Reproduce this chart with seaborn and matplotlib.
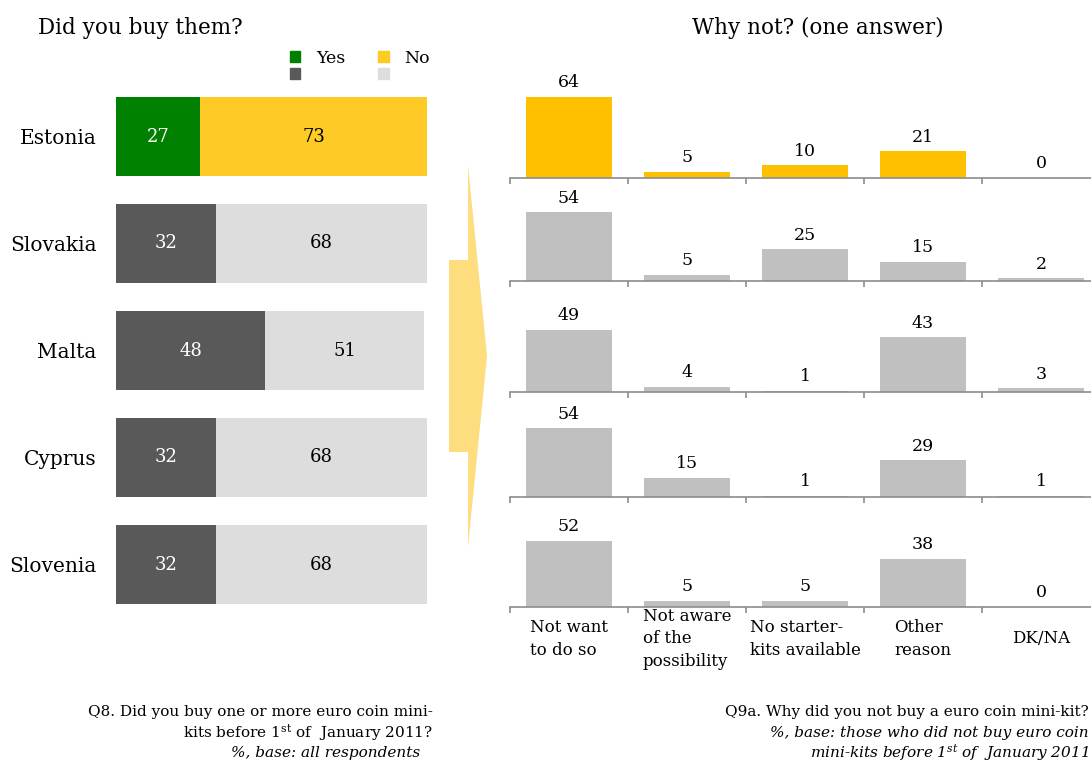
import matplotlib
matplotlib.use("Agg")
import matplotlib.pyplot as plt
import seaborn as sns
import pandas as pd
from matplotlib.patches import Polygon, Patch

# ---- data -------------------------------------------------------------
countries = ["Estonia", "Slovakia", "Malta", "Cyprus", "Slovenia"]
bought_yes = [27, 32, 48, 32, 32]
bought_no = [73, 68, 51, 68, 68]

reasons = ["Not want\nto do so", "Not aware\nof the\npossibility",
           "No starter-\nkits available", "Other\nreason", "DK/NA"]
why_not = {
    "Estonia": [64, 5, 10, 21, 0],
    "Slovakia": [54, 5, 25, 15, 2],
    "Malta": [49, 4, 1, 43, 3],
    "Cyprus": [54, 15, 1, 29, 1],
    "Slovenia": [52, 5, 5, 38, 0],
}

# ---- style ------------------------------------------------------------
sns.set_theme(style="white")
plt.rcParams["font.family"] = ["DejaVu Serif"]
plt.rcParams["mathtext.fontset"] = "dejavuserif"
plt.rcParams["text.color"] = "black"
plt.rcParams["xtick.color"] = "black"
plt.rcParams["ytick.color"] = "black"
plt.rcParams["xtick.labelcolor"] = "black"
plt.rcParams["ytick.labelcolor"] = "black"

W, H = 1091, 763
fig = plt.figure(figsize=(W / 100, H / 100), dpi=100)


def box(x0, y0, x1, y1):
    """Pixel box (top-left origin) -> figure fraction rect."""
    return [x0 / W, 1 - y1 / H, (x1 - x0) / W, (y1 - y0) / H]


YES_HI, NO_HI = "#008000", "#FDCA26"
YES_LO, NO_LO = "#595959", "#DDDDDD"
GOLD, GREY = "#FFC000", "#C0C0C0"

# ---- left panel: stacked yes / no bars ---------------------------------
df = pd.DataFrame({"country": countries, "yes": bought_yes, "no": bought_no})
df["total"] = df["yes"] + df["no"]
no_cols = [NO_HI] + [NO_LO] * (len(countries) - 1)
yes_cols = [YES_HI] + [YES_LO] * (len(countries) - 1)

axl = fig.add_axes(box(116, 83, 427, 618))
axl.patch.set_alpha(0)
sns.barplot(data=df, x="total", y="country", hue="country", palette=no_cols,
            legend=False, width=0.73, saturation=1, linewidth=0, ax=axl,
            orient="h")
sns.barplot(data=df, x="yes", y="country", hue="country", palette=yes_cols,
            legend=False, width=0.73, saturation=1, linewidth=0, ax=axl,
            orient="h")
axl.set_xlim(0, 100)
axl.set_ylim(len(countries) - 0.5, -0.5)
axl.set_xlabel("")
axl.set_ylabel("")
axl.set_xticks([])
axl.tick_params(axis="y", length=0, pad=14, labelsize=14.5)
for s in axl.spines.values():
    s.set_visible(False)

for i, (y, n) in enumerate(zip(bought_yes, bought_no)):
    axl.text(y / 2, i, f"{y}", ha="center", va="center", color="white",
             fontsize=13)
    axl.text(y + n / 2, i, f"{n}", ha="center", va="center", color="black",
             fontsize=13)

fig.text(38 / W, 1 - 28 / H, "Did you buy them?", fontsize=15.5,
         ha="left", va="center")

# legend: two columns, only the top row labelled
handles = [Patch(color=YES_HI), Patch(color=YES_LO),
           Patch(color=NO_HI), Patch(color=NO_LO)]
fig.legend(handles, ["Yes", "", "No", ""], ncol=2, frameon=False,
           loc="upper left", bbox_to_anchor=(290 / W, 1 - 50 / H),
           handlelength=0.6, handleheight=0.6, handletextpad=0.9,
           columnspacing=1.9, labelspacing=0.0, fontsize=12.5,
           borderaxespad=0, borderpad=0)

# ---- arrow between panels ----------------------------------------------
arrow_px = [(449, 260), (468, 260), (468, 165), (487, 356),
            (468, 547), (468, 452), (449, 452)]
fig.patches.append(Polygon([(x / W, 1 - y / H) for x, y in arrow_px],
                           closed=True, transform=fig.transFigure,
                           facecolor="#FEDD7E", edgecolor="none"))

# ---- right panels: reasons per country ---------------------------------
baselines = [178, 281, 392, 497, 607]
px_per_unit = 1.27
ymax = 80
for k, c in enumerate(countries):
    base = baselines[k]
    ax = fig.add_axes(box(510, base - ymax * px_per_unit, 1100, base))
    ax.patch.set_alpha(0)
    rdf = pd.DataFrame({"reason": reasons, "value": why_not[c]})
    sns.barplot(data=rdf, x="reason", y="value", color=GOLD if k == 0 else GREY,
                width=0.73, saturation=1, linewidth=0, ax=ax)
    ax.set_xlim(-0.5, len(reasons) - 0.5)
    ax.set_ylim(0, ymax)
    ax.set_xlabel("")
    ax.set_ylabel("")
    ax.set_yticks([])
    for name in ("top", "right", "left"):
        ax.spines[name].set_visible(False)
    ax.spines["bottom"].set_color("#8C8C8C")
    ax.spines["bottom"].set_linewidth(1.2)
    ax.set_xticks([i - 0.5 for i in range(len(reasons) + 1)], minor=True)
    ax.tick_params(axis="x", which="minor", bottom=True, length=4,
                   width=1.2, color="#8C8C8C", direction="out")
    ax.tick_params(axis="x", which="major", length=0)
    ax.bar_label(ax.containers[0], labels=[str(v) for v in why_not[c]],
                 padding=4, fontsize=12.5)
    if k < len(countries) - 1:
        ax.set_xticklabels([])
    else:
        ax.set_xticks(range(len(reasons)))
        ax.set_xticklabels(reasons, fontsize=12, linespacing=1.45,
                           multialignment="left", va="center")
        ax.tick_params(axis="x", which="major", pad=23)

fig.text(818 / W, 1 - 28 / H, "Why not? (one answer)", fontsize=15.5,
         ha="center", va="center")

# ---- footnotes -----------------------------------------------------------
fig.text(433 / W, 1 - 712 / H, "Q8. Did you buy one or more euro coin mini-",
         ha="right", va="center", fontsize=11)
fig.text(433 / W, 1 - 733 / H, r"kits before 1$^{\mathrm{st}}$ of  January 2011?",
         ha="right", va="center", fontsize=11)
fig.text(420 / W, 1 - 753 / H, "%, base: all respondents",
         ha="right", va="center", fontsize=11, style="italic")

fig.text(1089 / W, 1 - 712 / H, "Q9a. Why did you not buy a euro coin mini-kit?",
         ha="right", va="center", fontsize=11)
fig.text(1089 / W, 1 - 733 / H, "%, base: those who did not buy euro coin",
         ha="right", va="center", fontsize=11, style="italic")
fig.text(1089 / W, 1 - 753 / H,
         r"mini-kits before 1$^{st}$ of  January 2011",
         ha="right", va="center", fontsize=11, style="italic")

fig.savefig("out.png", dpi=100)
